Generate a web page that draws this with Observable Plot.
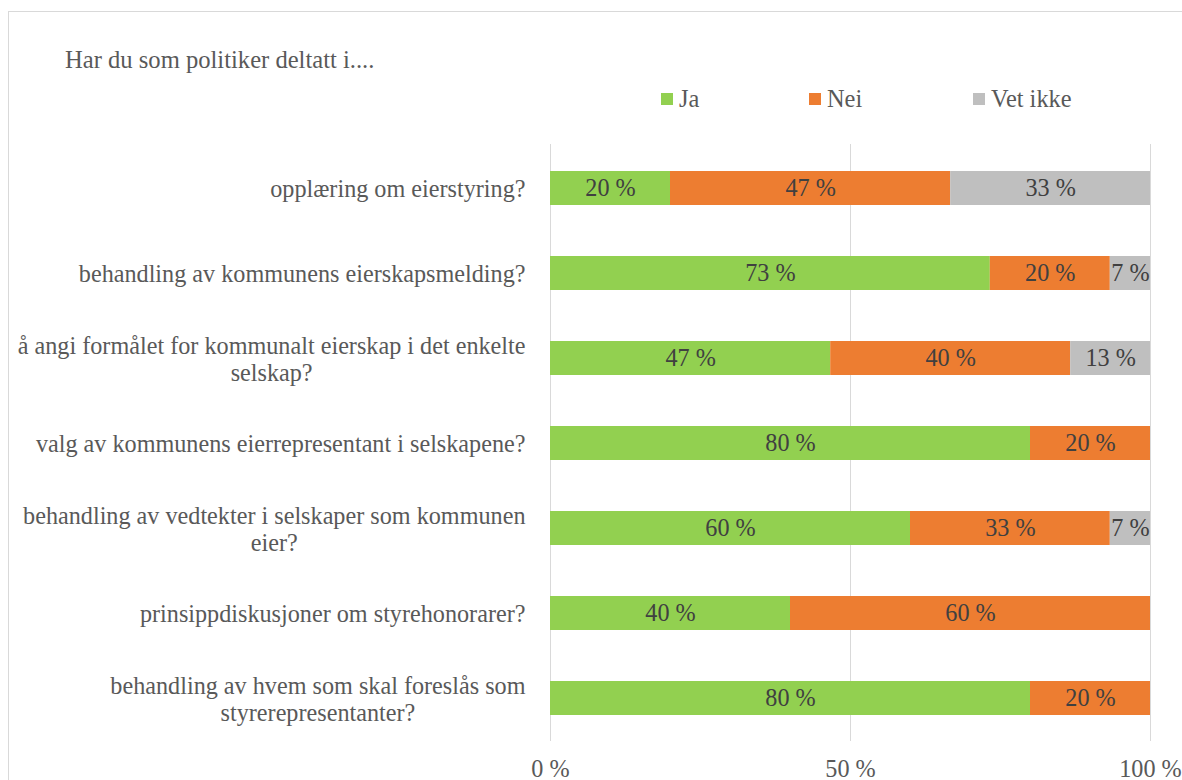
<!DOCTYPE html>
<html><head><meta charset="utf-8">
<script src="https://cdn.jsdelivr.net/npm/d3@7"></script>
<script src="https://cdn.jsdelivr.net/npm/@observablehq/plot@0.6"></script>
<style>
html,body{margin:0;padding:0;width:1182px;height:780px;overflow:hidden;background:#fff;font-family:"Liberation Serif","Times New Roman",serif;}
#frame{position:absolute;left:8px;top:11px;width:1220px;height:820px;border:1px solid #d9d9d9;box-sizing:border-box;}
#title{position:absolute;left:65px;top:48px;font-size:24.6px;line-height:24px;color:#595959;white-space:nowrap;}
#legend{position:absolute;left:661px;top:87px;display:flex;font-size:24.4px;line-height:24px;color:#595959;}
.item{display:flex;align-items:center;white-space:nowrap;}
.sw{width:12px;height:12px;margin-right:6px;}
#chart{position:absolute;left:0;top:130px;}
</style></head><body>
<div id="frame"></div>
<div id="title"></div>
<div id="legend"></div>
<div id="chart"></div>
<script>
const titleText = "Har du som politiker deltatt i....";
const categories = [
  "opplæring om eierstyring?",
  "behandling av kommunens eierskapsmelding?",
  "å angi formålet for kommunalt eierskap i det enkelte selskap?",
  "valg av kommunens eierrepresentant i selskapene?",
  "behandling av vedtekter i selskaper som kommunen eier?",
  "prinsippdiskusjoner om styrehonorarer?",
  "behandling av hvem som skal foreslås som styrerepresentanter?"
];
const categoryLabels = [
  "opplæring om eierstyring?",
  "behandling av kommunens eierskapsmelding?",
  "å angi formålet for kommunalt eierskap i det enkelte\nselskap?",
  "valg av kommunens eierrepresentant i selskapene?",
  "behandling av vedtekter i selskaper som kommunen\neier?",
  "prinsippdiskusjoner om styrehonorarer?",
  "behandling av hvem som skal foreslås som\nstyrerepresentanter?"
];
const responses = ["Ja", "Nei", "Vet ikke"];
const colors = ["#92d050", "#ed7d31", "#bfbfbf"];
const ja      = [20, 73.3, 46.7, 80, 60, 40, 80];
const nei     = [46.7, 20, 40, 20, 33.3, 60, 20];
const vetIkke = [33.3, 6.7, 13.3, 0, 6.7, 0, 0];
const xTicks = [0, 50, 100];

const fontStack = "'Liberation Serif','Times New Roman',serif";
const fs = 24.2;

document.getElementById("title").textContent = titleText;
const legend = document.getElementById("legend");
const itemWidths = [148, 164, null];
responses.forEach((r, j) => {
  const it = document.createElement("div");
  it.className = "item";
  if (itemWidths[j]) it.style.width = itemWidths[j] + "px";
  const sw = document.createElement("div");
  sw.className = "sw";
  sw.style.background = colors[j];
  const tx = document.createElement("span");
  tx.textContent = r;
  it.appendChild(sw); it.appendChild(tx);
  legend.appendChild(it);
});

const series = [ja, nei, vetIkke];
const data = [];
categories.forEach((c, i) => {
  responses.forEach((r, j) => data.push({cat: c, resp: r, value: series[j][i]}));
});
const nonZero = data.filter(d => d.value > 0);
const labelOf = new Map(categories.map((c, i) => [c, categoryLabels[i]]));

const plot = Plot.plot({
  width: 1182,
  height: 650,
  marginTop: 14,
  marginBottom: 39,
  marginLeft: 550,
  marginRight: 32,
  style: {fontFamily: fontStack, fontSize: fs + "px", color: "#595959", background: "transparent", overflow: "visible"},
  x: {domain: [0, 100]},
  y: {domain: categories, paddingInner: 0.6, paddingOuter: 0.3, label: null},
  color: {domain: responses, range: colors},
  marks: [
    Plot.ruleX(xTicks, {stroke: "#d9d9d9", strokeWidth: 1}),
    Plot.barX(data, Plot.stackX({x: "value", y: "cat", fill: "resp", z: "resp", order: responses})),
    Plot.text(nonZero, Plot.stackX({x: "value", y: "cat", z: "resp", order: responses, text: d => Math.round(d.value) + " %", fill: "#404040", fontSize: fs})),
    Plot.axisY({tickSize: 0, tickPadding: 25, tickFormat: c => labelOf.get(c), lineHeight: 1.15, fontSize: fs, label: null}),
    Plot.axisX({ticks: xTicks, tickSize: 0, tickPadding: 18, tickFormat: d => d + " %", fontSize: fs, label: null})
  ]
});
document.getElementById("chart").appendChild(plot);

// centre wrapped category labels on each other, longest line flush with the axis gap
plot.querySelectorAll('g[aria-label="y-axis tick label"] text').forEach(t => {
  const spans = t.querySelectorAll("tspan");
  if (spans.length > 1) {
    const w = Math.max(...Array.from(spans, s => s.getComputedTextLength()));
    const tx = +(t.getAttribute("x") || 0);
    t.setAttribute("text-anchor", "middle");
    spans.forEach(s => s.setAttribute("x", tx - w / 2));
  }
});
</script>
</body></html>
